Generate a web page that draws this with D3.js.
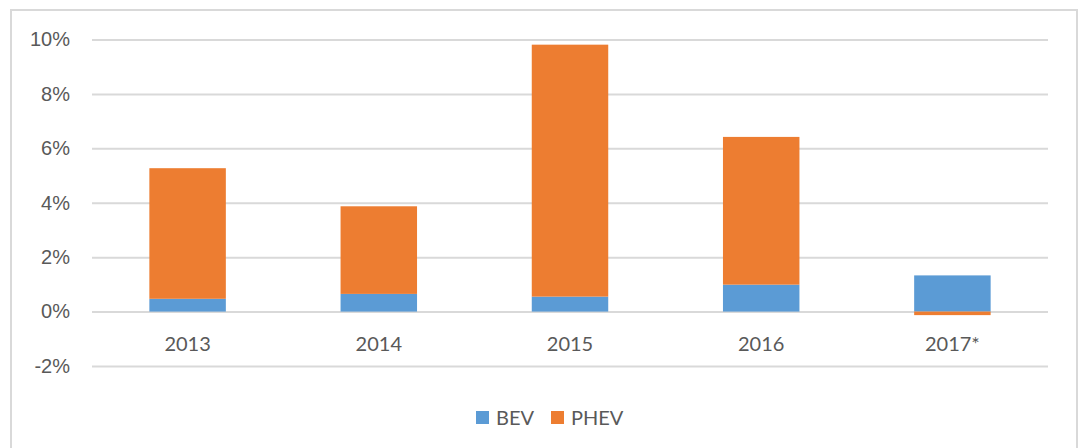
<!DOCTYPE html>
<html>
<head>
<meta charset="utf-8">
<script src="https://cdn.jsdelivr.net/npm/d3@7"></script>
<style>
  body { margin: 0; background: #fff; }
  svg { display: block; font-family: Lato, "Open Sans", sans-serif; }
  .tick text, .legend text { fill: #595959; }
</style>
</head>
<body>
<div id="chart-container"></div>
<script>
// chart data (share, %)
var years = ['2013', '2014', '2015', '2016', '2017*'];
var bev = [0.47, 0.65, 0.55, 0.99, 1.33];
var phev = [4.80, 3.22, 9.26, 5.43, -0.13];
var seriesNames = ['BEV', 'PHEV'];
var yTicks = [-2, 0, 2, 4, 6, 8, 10];

var colors = { BEV: '#5B9BD5', PHEV: '#ED7D31' };

var W = 1087, H = 448;
var margin = { top: 39.5, right: 39, bottom: 0, left: 92 };
var width = W - margin.left - margin.right;

var svg = d3.select('#chart-container').append('svg')
  .attr('width', W)
  .attr('height', H);

// chart frame
svg.append('rect')
  .attr('x', 11).attr('y', 10)
  .attr('width', 1066).attr('height', 460)
  .attr('fill', 'none')
  .attr('stroke', '#D9D9D9')
  .attr('stroke-width', 2);

var g = svg.append('g')
  .attr('transform', 'translate(' + margin.left + ',' + margin.top + ')');

var x = d3.scaleBand()
  .domain(years)
  .range([0, width])
  .paddingInner(0.6)
  .paddingOuter(0.3);

var y = d3.scaleLinear()
  .domain([-2, 10])
  .range([326.5, 0]);

// gridlines + y labels
var yAxis = d3.axisLeft(y)
  .tickValues(yTicks)
  .tickSize(-width)
  .tickPadding(22)
  .tickFormat(function(d) { return d + '%'; });

var ya = g.append('g').attr('class', 'y axis').call(yAxis);
ya.select('.domain').remove();
ya.selectAll('line').attr('stroke', '#D9D9D9').attr('stroke-width', 2);
ya.selectAll('text').style('font-size', '20px');

// stacked bars, positive and negative handled separately
var rows = years.map(function(yr, i) {
  return { year: yr, BEV: bev[i], PHEV: phev[i] };
});

rows.forEach(function(d) {
  var pos = 0, neg = 0;
  seriesNames.forEach(function(s) {
    var v = d[s], y0, y1;
    if (v >= 0) { y0 = pos; y1 = pos + v; pos = y1; }
    else { y0 = neg + v; y1 = neg; neg = y0; }
    g.append('rect')
      .attr('x', x(d.year))
      .attr('width', x.bandwidth())
      .attr('y', y(y1))
      .attr('height', y(y0) - y(y1))
      .attr('fill', colors[s]);
  });
});

// category labels
g.selectAll('.cat')
  .data(years)
  .enter().append('text')
  .attr('class', 'cat')
  .attr('x', function(d) { return x(d) + x.bandwidth() / 2; })
  .attr('y', y(0) + 39)
  .attr('text-anchor', 'middle')
  .attr('fill', '#595959')
  .style('font-size', '20px')
  .text(function(d) { return d; });

// legend
var legend = svg.append('g').attr('class', 'legend')
  .attr('transform', 'translate(476,411)');
var lx = [0, 75];
seriesNames.forEach(function(s, i) {
  legend.append('rect')
    .attr('x', lx[i]).attr('y', 0)
    .attr('width', 13).attr('height', 13)
    .attr('fill', colors[s]);
  legend.append('text')
    .attr('x', lx[i] + 20).attr('y', 14)
    .style('font-size', '20px')
    .text(s);
});
</script>
</body>
</html>
